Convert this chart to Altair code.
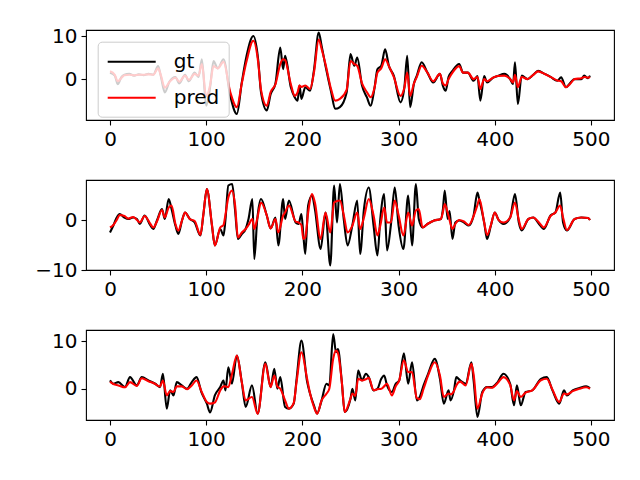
import altair as alt
import pandas as pd

# ---------------- Panel 1 ----------------
p1_x = [0, 5, 8, 12, 15, 20, 25, 30, 35, 40, 45, 50, 53, 57, 62, 68, 72, 78, 82, 88, 92, 95.5, 100, 104,
        107.6, 112, 118, 125, 131.9, 137, 142, 149, 154, 157, 163, 167, 172, 177, 180, 182, 188, 192, 195,
        197, 199, 203, 208, 212, 217, 220, 224, 230, 234, 239, 246, 250, 254, 257, 262, 267, 271, 275, 278,
        282, 286, 290, 295, 302, 306, 309, 312, 316, 319, 324, 330, 336, 343, 346, 349, 352, 356, 363, 367,
        372, 378, 382, 385, 389, 392, 398, 403, 410, 416, 419, 421, 424, 428, 434, 440, 445, 452, 458, 465,
        469, 474, 478, 483, 490, 493, 497, 499]
p1_gt = [1.5, 0.8, -1.2, 0.5, 1.0, 1.2, 0.8, 1.1, 0.9, 1.2, 1.0, 3.0, 0.5, -3.1, -0.5, 0.5, -1.0, 1.0, -0.5, 1.5,
         0.5, 4.6, -6.2, -2.0, 4.2, 2.5, 4.6, -3.9, -8.1, -0.8, 5.4, 10.0, 4.6, -3.1, -7.3, -3.5, -1.0, 7.3,
         2.3, 5.4, -1.9, -4.2, -5.0, -1.5, -4.6, -1.9, -2.7, 2.0, 10.8, 7.7, 3.1, -3.1, -6.9, -6.5, -3.1, 5.8,
         3.1, 5.0, -1.5, -4.2, -6.2, -2.0, 2.3, 3.1, 6.9, 3.0, 0.8, -5.4, -2.0, 5.4, -6.5, -1.0, 0.8, 3.9, 1.5,
         -0.8, 1.2, -1.5, -2.7, 0.5, 1.9, 3.5, 1.5, 1.5, -0.4, 0.7, -5.0, 0.7, -0.8, 0.3, 0.7, 1.2, 0.0, -1.2,
         3.9, -5.8, 0.8, 0.0, 1.0, 1.9, 1.2, 0.5, -0.4, 0.4, -1.9, -1.0, 0.0, 0.0, 0.8, 0.2, 0.8]
p1_pred = [1.8, 1.0, -0.5, 0.3, 0.9, 1.0, 0.9, 1.0, 1.0, 1.1, 1.0, 2.5, 0.8, -2.0, -0.6, 0.3, -0.6, 0.8, -0.2,
           1.2, 0.8, 3.5, -4.0, -1.5, 3.0, 2.5, 4.0, -3.0, -6.5, -1.0, 4.2, 8.9, 4.0, -2.5, -6.2, -3.0, -1.2,
           3.5, 4.6, 4.4, -1.2, -3.9, -3.1, -1.5, -1.8, -1.5, -2.3, 1.5, 9.2, 7.0, 3.5, -2.5, -5.0, -4.6, -2.5,
           4.2, 3.5, 3.1, -1.0, -3.0, -4.2, -2.0, 1.5, 2.5, 4.6, 3.0, 0.5, -3.9, -2.0, 1.5, -3.9, -1.0, 0.5,
           3.1, 1.5, -0.5, 1.2, -1.0, -1.5, 0.0, 1.5, 3.0, 1.5, 1.5, 0.0, 0.5, -2.3, 0.0, -0.5, 0.3, 0.7, 0.8,
           0.0, -0.8, 1.0, -1.9, 0.5, 0.0, 1.0, 1.8, 1.2, 0.5, -0.3, -0.5, -1.9, -1.2, 0.0, 0.2, 0.5, 0.3, 0.5]

# ---------------- Panel 2 ----------------
p2_x = [0, 3.5, 7, 10, 15, 19, 24, 28, 31, 36, 42, 45, 49, 54, 57, 61, 64, 68, 71, 75, 78, 83, 88, 94, 97,
        100.7, 106, 109, 114.6, 118, 120, 123, 127, 130, 133, 137, 141, 144, 148, 150, 153, 157, 163, 167,
        172, 175, 180, 182, 186, 193, 196, 199, 201, 203, 206, 210, 213, 219, 224, 229, 233, 236, 239, 243,
        247, 252, 257, 260, 264, 269, 274, 278, 281, 285, 288, 292, 296, 300, 305, 310, 314, 318, 321, 325,
        330, 337, 344, 346, 348, 351, 353, 356, 359, 363, 368, 373, 378, 382, 384, 389, 392, 396, 400, 404,
        409, 416, 421, 425, 428, 435, 440, 446, 451, 458, 463, 468, 471, 475, 483, 490, 497, 499]
p2_gt = [-2.5, -1.1, 0.5, 1.2, 0.5, 0.2, 0.5, 0.2, -0.8, 0.9, -1.1, -1.8, 0.0, 2.2, 0.2, 4.2, 2.2, -1.1, -2.8,
         0.0, 1.5, 0.2, -0.5, -3.1, 1.0, 6.2, -1.1, -5.1, -1.8, -3.1, 0.0, 6.9, 7.2, 2.0, -3.8, -2.8, -1.8,
         0.2, 4.2, -7.8, 0.0, 4.2, 0.9, -1.7, 0.5, -5.1, 4.2, 0.2, 3.9, -0.5, -0.8, 1.2, -3.0, -6.8, 2.9, 4.9,
         2.2, -5.8, 1.5, -9.1, 6.9, -0.5, 7.2, 0.2, -5.1, -1.0, 3.9, -6.8, 2.2, 6.5, -1.1, -7.1, 0.2, 5.2,
         -6.1, -1.0, 6.5, -1.1, -5.8, 4.9, -5.1, 7.2, 0.2, -1.5, -0.8, -0.1, 0.2, 2.0, 5.9, 0.2, 1.8, -3.8,
         -0.5, -0.1, -0.5, -1.1, 0.9, 5.5, 4.0, -0.5, -3.8, -1.1, 1.5, 0.0, -0.8, 0.5, 5.2, -0.5, -2.1, 0.2,
         0.5, -0.8, -1.8, 0.9, 1.5, 5.5, -0.5, -2.1, 0.2, 0.5, 0.4, 0.0]
p2_pred = [-1.5, -1.0, 0.0, 1.0, 0.8, 0.3, 0.6, 0.0, -0.5, 0.8, -0.8, -1.5, -0.2, 2.0, 0.5, 2.5, 2.9, -0.8,
           -2.1, 0.0, 1.5, 0.2, -0.2, -3.0, 1.0, 6.2, -1.0, -5.1, -1.5, -1.0, 1.0, 4.5, 5.9, 3.0, -3.5, -2.5,
           -1.8, -1.0, 0.2, -1.8, 0.2, 3.5, 0.9, -1.7, 0.2, -2.5, 0.9, 1.5, 2.9, -0.3, -0.5, -1.0, -3.8, -3.5,
           1.5, 5.2, 3.5, -3.8, 1.5, -2.5, 3.5, 3.8, 3.9, 1.0, -2.5, -1.1, 1.5, -1.8, 0.5, 4.2, 0.9, -3.1,
           -1.1, 2.5, -0.5, -0.5, 3.9, 1.0, -3.1, 1.5, -1.1, 1.9, 2.2, -1.5, -0.8, -0.1, 0.2, 1.5, 3.2, 1.5,
           0.0, -1.8, -0.8, 0.0, -0.3, -1.0, 0.8, 3.0, 4.2, -0.5, -3.0, -1.0, 1.5, 0.0, -0.5, 0.5, 3.5, 0.0,
           -1.8, 0.2, 0.5, -0.5, -1.5, 0.8, 1.5, 2.9, 0.5, -2.0, 0.2, 0.5, 0.4, 0.0]

# ---------------- Panel 3 ----------------
p3_x = [0, 3.5, 8.7, 15.6, 20.8, 27.8, 33, 40, 47, 52, 55, 59, 62.5, 66, 69.4, 74.6, 80, 85, 90, 95, 100.7,
        104, 109, 114.6, 118, 120, 123, 126.7, 131.9, 137, 141, 147.6, 153.5, 161.5, 167, 170.8, 174, 177,
        182, 186, 191, 194, 199, 205, 208, 212, 215.3, 220, 225, 228, 232, 235, 237, 241, 244, 250, 252, 255,
        258, 262, 266, 269, 274, 278, 282, 285, 288, 293, 297, 300.7, 305.5, 310, 314, 319, 322, 326, 330.7,
        337.6, 343, 347, 352, 354, 357.6, 360, 364, 369.8, 375.7, 378, 382, 387, 392, 397, 403, 409, 416, 420,
        423, 427, 432, 439, 448, 454, 460, 467, 472, 475, 481, 488, 495, 499]
p3_gt = [1.75, 1.05, 1.4, 0.35, 2.45, 0.7, 2.45, 1.75, 1.05, 0.35, 3.15, -4.2, -0.35, -1.4, 1.4, 0.7, 0.0,
         1.4, 2.45, -0.7, -3.15, -5.0, -1.4, 0.35, 1.75, -0.35, 4.55, 1.05, 7.0, 1.4, -3.85, 0.7, -5.25, 5.6,
         0.35, 4.2, 0.0, 2.45, -3.85, -4.2, -3.15, 2.1, 10.15, 1.4, -1.05, -3.5, -5.25, -2.45, 1.05, 0.7,
         11.55, 7.7, 8.4, 1.4, -4.9, -2.1, 0.0, -2.45, 3.85, 1.75, 3.15, 2.45, -0.35, 0.0, 2.1, 2.8, 0.7,
         -0.7, 1.05, 1.75, 7.5, 1.05, 5.6, -2.45, -1.75, 0.7, 3.15, 6.3, 2.1, -3.15, -0.35, -2.45, -0.35,
         2.45, 1.75, 1.05, 5.6, 1.75, -5.95, -0.7, 0.35, 0.35, 1.4, 3.15, 1.05, -3.5, 0.7, -3.5, -0.7, -0.35,
         2.1, 2.45, -0.35, -3.15, -0.35, -1.4, -0.35, 0.15, 0.5, 0.15]
p3_pred = [1.5, 1.0, 0.7, 0.3, 1.4, 0.6, 2.2, 1.6, 1.0, 0.5, 1.75, -1.4, -0.5, -0.7, 0.5, 0.5, -0.1, 0.7,
           1.75, -0.5, -2.8, -3.15, -2.9, -0.35, 0.5, 0.5, 0.35, 3.0, 7.0, 1.4, -2.45, -1.75, -5.25, 5.25,
           0.35, 2.8, 0.5, 0.0, -2.45, -4.2, -3.0, 1.5, 7.7, 2.0, -1.0, -3.85, -5.25, -2.45, -1.05, 0.0, 6.3,
           8.05, 7.5, 1.4, -4.9, -2.1, -1.0, -1.5, 2.1, 1.75, 2.0, 2.3, -0.3, -0.1, 0.0, 0.5, 1.05, -1.4, 0.5,
           1.75, 6.0, 3.5, 3.5, -2.0, -2.2, 0.0, 2.8, 5.6, 2.8, -1.75, -1.0, -1.2, -0.5, 0.7, 1.5, 0.7, 5.25,
           3.0, -4.2, -1.0, 0.3, 0.2, 1.2, 2.45, 0.8, -2.45, -0.5, -1.75, -0.8, -0.35, 1.8, 2.1, -0.2, -2.8,
           -1.0, -1.2, -0.5, 0.0, 0.3, 0.0]

series_names = ["gt", "pred"]
series_colors = ["black", "red"]
x_ticks = [0, 100, 200, 300, 400, 500]

FONT = "DejaVu Sans"


def panel(xs, gt, pred, ydom, yticks, show_legend):
    n = len(xs)
    df = pd.DataFrame({
        "x": list(xs) + list(xs),
        "value": list(gt) + list(pred),
        "series": ["gt"] * n + ["pred"] * len(pred),
    })
    if show_legend:
        leg = alt.Legend(
            title=None, orient="none", legendX=11.7, legendY=11.7, zindex=1,
            symbolType="M-1,0L3.8,0", symbolSize=400, symbolStrokeWidth=2,
            labelFontSize=20, labelFont=FONT, labelColor="black", labelOffset=45,
            fillColor="rgba(255,255,255,0.8)", strokeColor="#cccccc", cornerRadius=4,
            padding=9, rowPadding=15,
        )
    else:
        leg = None
    return alt.Chart(df).mark_line(strokeWidth=2.1, clip=True, interpolate="monotone").encode(
        x=alt.X("x:Q", scale=alt.Scale(domain=[-24.95, 523.95], nice=False, zero=False),
                axis=alt.Axis(values=x_ticks, title=None, grid=False, domain=False,
                              tickSize=5, tickWidth=1.1, tickColor="black",
                              labelPadding=4, labelFontSize=20, labelFont=FONT,
                              labelColor="black", format="d")),
        y=alt.Y("value:Q", scale=alt.Scale(domain=ydom, nice=False, zero=False),
                axis=alt.Axis(values=yticks, title=None, grid=False, domain=False,
                              tickSize=5, tickWidth=1.1, tickColor="black",
                              labelPadding=4, labelFontSize=20, labelFont=FONT,
                              labelColor="black", format="d")),
        color=alt.Color("series:N", scale=alt.Scale(domain=series_names, range=series_colors),
                        legend=leg),
    ).properties(width=528, height=90)


c1 = panel(p1_x, p1_gt, p1_pred, [-9.5, 11.4], [0, 10], True)
c2 = panel(p2_x, p2_gt, p2_pred, [-10.0, 8.0], [-10, 0], False)
c3 = panel(p3_x, p3_gt, p3_pred, [-6.6, 12.4], [0, 10], False)

chart = alt.vconcat(c1, c2, c3, spacing=29).resolve_scale(color="independent").properties(
    padding={"left": 26, "top": 17, "right": 5, "bottom": 5},
    background="white",
).configure_view(stroke="black", strokeWidth=1.1)

chart.save("out.html", embed_options={"renderer": "svg", "actions": False})
